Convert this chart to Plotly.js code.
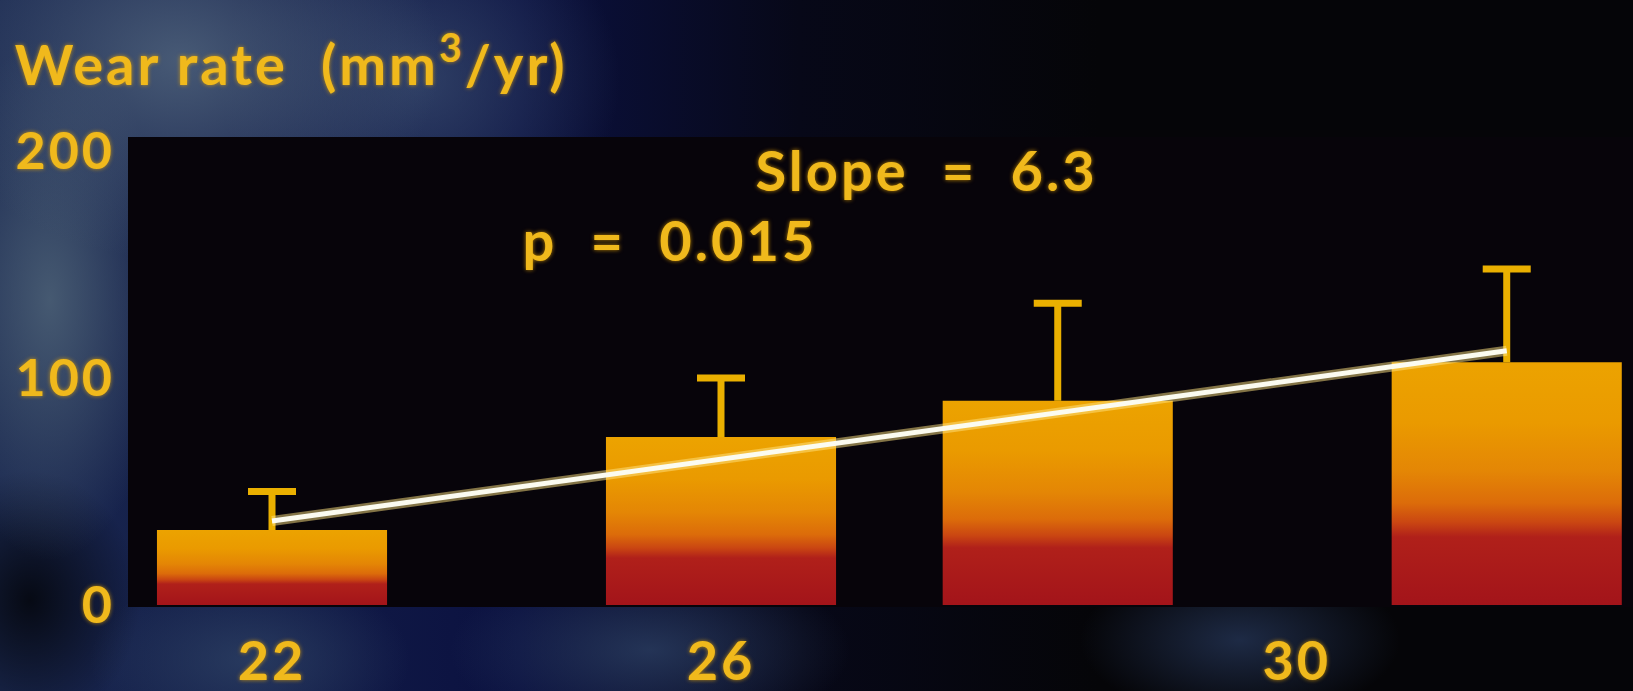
<!DOCTYPE html>
<html>
<head>
<meta charset="utf-8">
<script src="https://cdn.plot.ly/plotly-3.0.1.min.js"></script>
<style>
  html, body { margin: 0; padding: 0; width: 1633px; height: 691px; overflow: hidden; }
  body {
    background:
      radial-gradient(ellipse 260px 200px at 180px 60px, rgba(80,100,125,0.85), rgba(80,100,125,0) 100%),
      radial-gradient(ellipse 200px 180px at 420px 80px, rgba(60,80,115,0.7), rgba(60,80,115,0) 100%),
      radial-gradient(ellipse 120px 260px at 50px 300px, rgba(72,92,115,0.95), rgba(72,92,115,0) 100%),
      radial-gradient(ellipse 160px 90px at 250px 660px, rgba(45,65,100,0.8), rgba(45,65,100,0) 100%),
      radial-gradient(ellipse 200px 90px at 650px 650px, rgba(45,65,100,0.75), rgba(45,65,100,0) 100%),
      radial-gradient(ellipse 160px 80px at 1240px 640px, rgba(40,58,95,0.7), rgba(40,58,95,0) 100%),
      radial-gradient(ellipse 110px 130px at 30px 600px, rgba(0,0,0,0.75), rgba(0,0,0,0) 100%),
      linear-gradient(to right, #1a2850 0px, #0b1140 520px, #070818 800px, #050508 1100px, #050508 1633px);
  }
  #chart { width: 1633px; height: 691px; }
  #chart svg text { letter-spacing: 3px; }
</style>
</head>
<body>
<div id="chart"></div>
<script>
// Data
var headPos   = [22, 26, 29, 33];          // bar positions along the x axis
var wearRate  = [33, 74, 90, 107];         // mean wear rate (mm^3/yr)
var wearSD    = [17, 26, 43, 41];          // upper error bar length
var trendX    = [22, 33];
var trendY    = [37, 112];
var xTickText = ['22', '26', '30'];
var yTickVals = [0, 100, 200];
var yTickText = ['0', '100', '200'];

var gold = '#f0b91c';
var glow = '0 0 4px rgba(240,170,0,0.75)';
var fam = 'Lato, "Open Sans", sans-serif';

var bars = {
  type: 'bar',
  x: headPos,
  y: wearRate,
  width: 2.05,
  marker: { color: '#e48a06', line: { width: 0 } },
  error_y: {
    type: 'data', symmetric: false,
    array: wearSD,
    arrayminus: wearSD.map(function () { return 0; }),
    color: '#eab000', thickness: 7, width: 24
  },
  hoverinfo: 'none'
};
var trendGlow = {
  type: 'scatter', mode: 'lines', x: trendX, y: trendY,
  line: { color: 'rgba(255,228,130,0.5)', width: 10 }, hoverinfo: 'none'
};
var trend = {
  type: 'scatter', mode: 'lines', x: trendX, y: trendY,
  line: { color: '#fbfbf0', width: 5 }, hoverinfo: 'none'
};

var layout = {
  width: 1633, height: 691,
  margin: { l: 128, r: 0, t: 137, b: 84, pad: 0 },
  paper_bgcolor: 'rgba(0,0,0,0)',
  plot_bgcolor: '#07040a',
  showlegend: false,
  font: { family: fam, color: gold },
  title: {
    text: 'Wear rate  (mm<sup>3</sup>/yr)',
    x: 0.009, xanchor: 'left', xref: 'container',
    y: 0.905, yanchor: 'middle', yref: 'container',
    font: { family: fam, size: 56, weight: 'bold', color: gold, shadow: glow }
  },
  xaxis: {
    range: [20.717, 34.125],
    tickvals: [22, 26, 31.13], ticktext: xTickText,
    ticks: '', showgrid: false, zeroline: false, showline: false,
    ticklabelstandoff: 18,
    tickfont: { family: fam, size: 54, weight: 'bold', color: gold, shadow: glow }
  },
  yaxis: {
    range: [-0.88, 206.2],
    tickvals: yTickVals, ticktext: yTickText,
    ticks: '', showgrid: false, zeroline: false, showline: false,
    ticklabelstandoff: 12,
    tickfont: { family: fam, size: 52, weight: 'bold', color: gold, shadow: glow }
  },
  annotations: [
    { text: 'Slope  =  6.3', x: 27.83, y: 191.7, xref: 'x', yref: 'y',
      xanchor: 'center', yanchor: 'middle', showarrow: false,
      font: { family: fam, size: 56, weight: 'bold', color: gold, shadow: glow } },
    { text: 'p  =  0.015', x: 25.55, y: 160.9, xref: 'x', yref: 'y',
      xanchor: 'center', yanchor: 'middle', showarrow: false,
      font: { family: fam, size: 56, weight: 'bold', color: gold, shadow: glow } }
  ]
};

Plotly.newPlot('chart', [bars, trendGlow, trend], layout, { staticPlot: true }).then(function (gd) {
  var svgNS = 'http://www.w3.org/2000/svg';
  var defs = gd.querySelector('svg.main-svg defs');
  var grad = document.createElementNS(svgNS, 'linearGradient');
  grad.setAttribute('id', 'barGrad');
  grad.setAttribute('x1', '0'); grad.setAttribute('y1', '0');
  grad.setAttribute('x2', '0'); grad.setAttribute('y2', '1');
  var stops = [
    [0, '#eca300'], [0.25, '#ea9a00'], [0.45, '#e48605'],
    [0.58, '#dc6c0a'], [0.66, '#ca4612'], [0.72, '#b0201a'],
    [1, '#a3141a']
  ];
  stops.forEach(function (s) {
    var st = document.createElementNS(svgNS, 'stop');
    st.setAttribute('offset', s[0]);
    st.setAttribute('stop-color', s[1]);
    grad.appendChild(st);
  });
  defs.appendChild(grad);
  gd.querySelectorAll('.barlayer .point path').forEach(function (p) {
    p.style.fill = 'url(#barGrad)';
  });
  // error bars only have a top cap in the reference: drop the lower cross-bar
  gd.querySelectorAll('.errorbar path.yerror').forEach(function (p) {
    var d = p.getAttribute('d');
    if (d) p.setAttribute('d', d.replace(/(V[-\d.e]+)m.*$/, '$1'));
  });
});
</script>
</body>
</html>
